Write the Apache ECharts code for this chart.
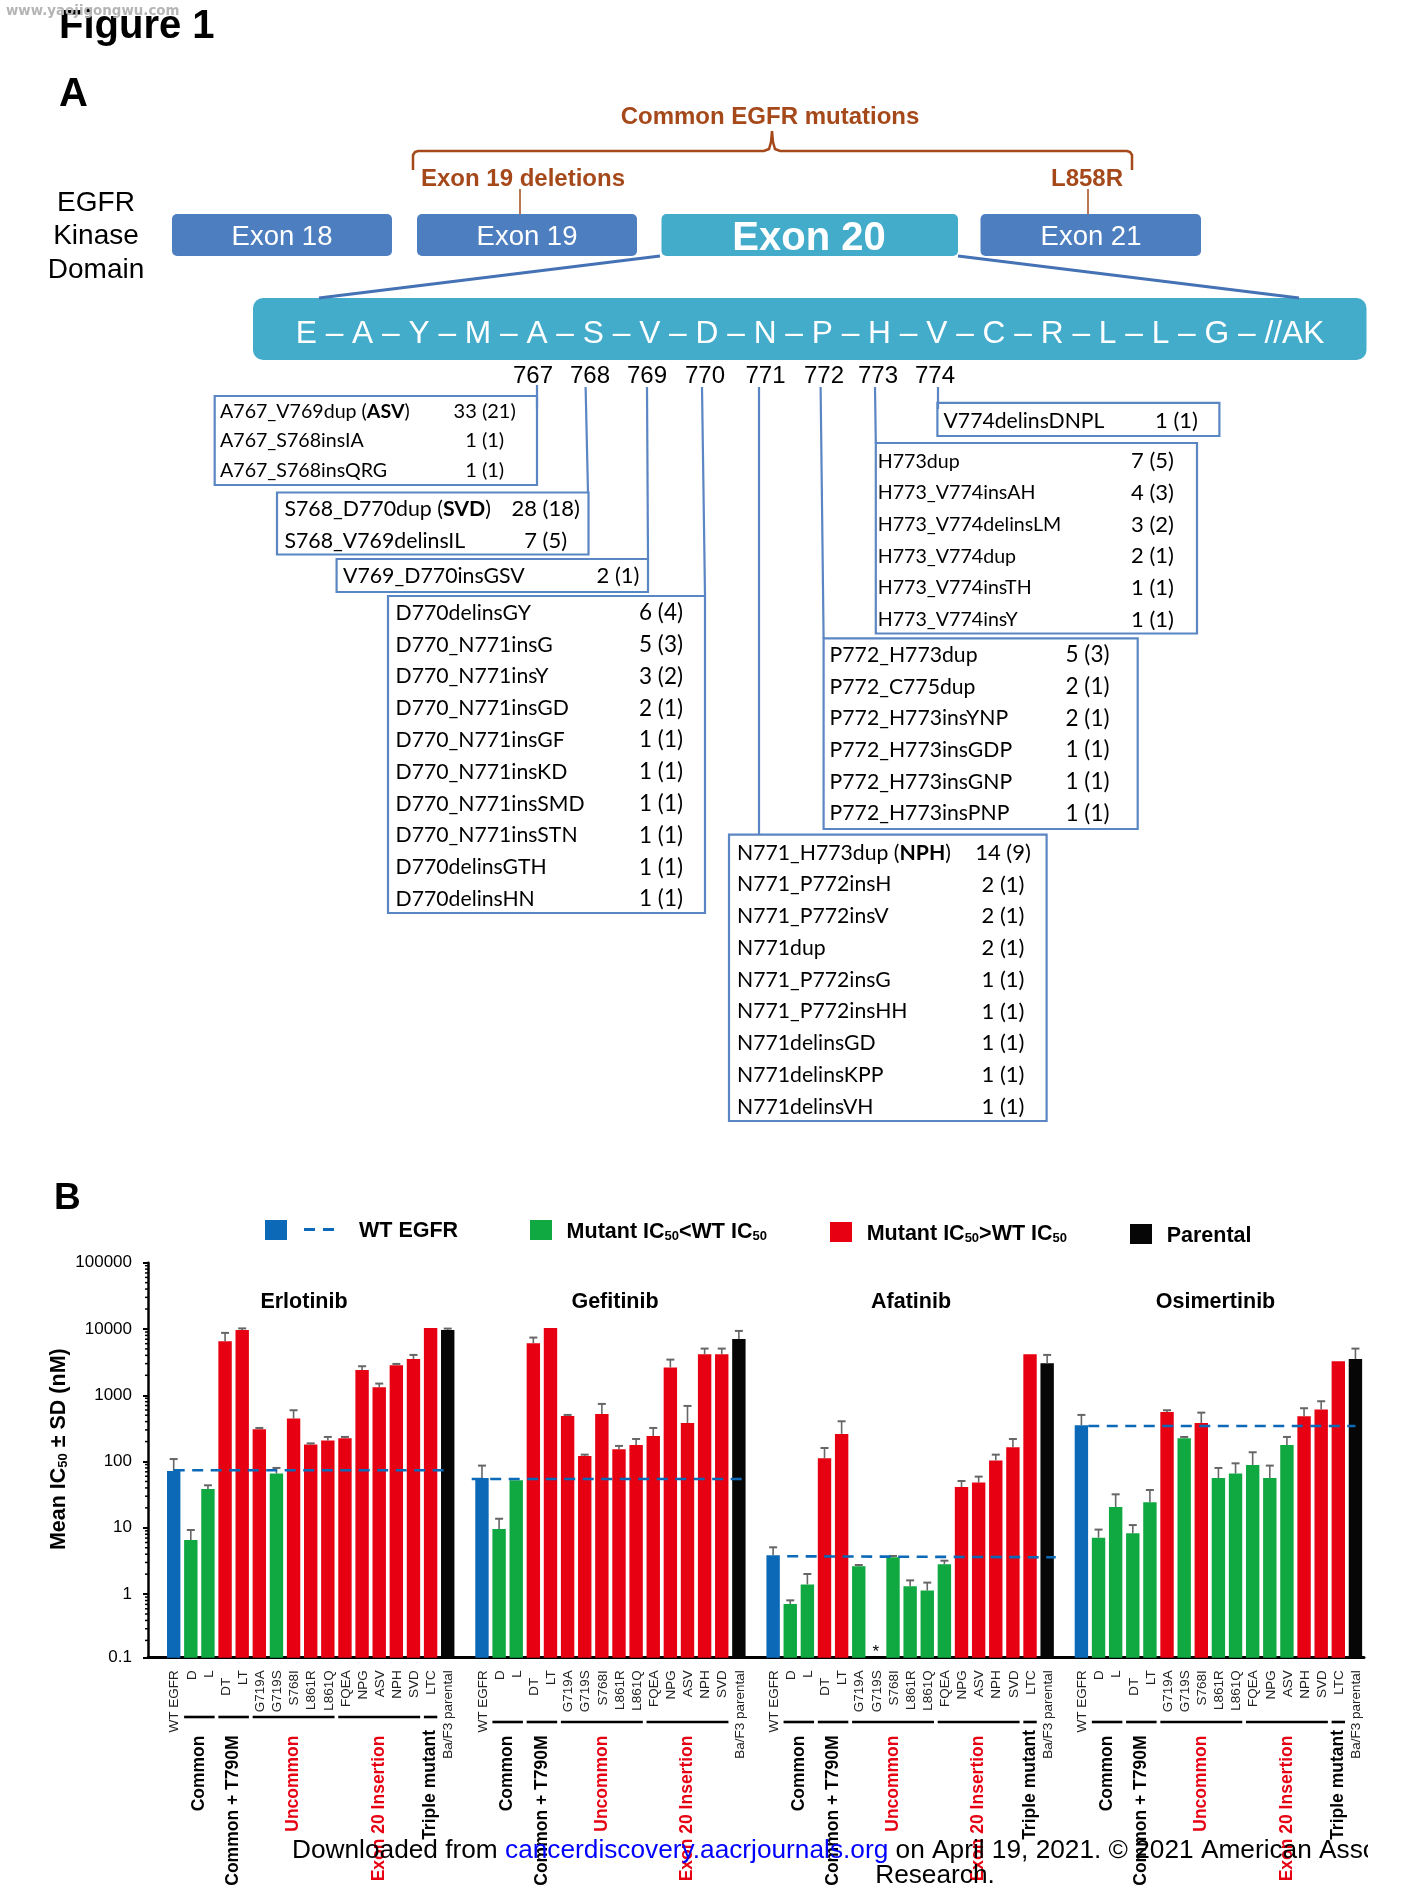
<!DOCTYPE html>
<html>
<head>
<meta charset="utf-8">
<title>Figure 1</title>
<style>
  html, body { margin: 0; padding: 0; background: #fff; }
  #chart { width: 1417px; height: 1890px; }
</style>
<script src="https://cdn.jsdelivr.net/npm/echarts@6/dist/echarts.min.js"></script>
</head>
<body>
<div id="chart"></div>
<script>
// Panel A: mutation tables, one list per residue
const mut767 = [['A767_V769dup (ASV)', '33 (21)'], ['A767_S768insIA', '1 (1)'], ['A767_S768insQRG', '1 (1)']];
const mut768 = [['S768_D770dup (SVD)', '28 (18)'], ['S768_V769delinsIL', '7 (5)']];
const mut769 = [['V769_D770insGSV', '2 (1)']];
const mut770 = [['D770delinsGY', '6 (4)'], ['D770_N771insG', '5 (3)'], ['D770_N771insY', '3 (2)'], ['D770_N771insGD', '2 (1)'],
  ['D770_N771insGF', '1 (1)'], ['D770_N771insKD', '1 (1)'], ['D770_N771insSMD', '1 (1)'], ['D770_N771insSTN', '1 (1)'],
  ['D770delinsGTH', '1 (1)'], ['D770delinsHN', '1 (1)']];
const mut771 = [['N771_H773dup (NPH)', '14 (9)'], ['N771_P772insH', '2 (1)'], ['N771_P772insV', '2 (1)'], ['N771dup', '2 (1)'],
  ['N771_P772insG', '1 (1)'], ['N771_P772insHH', '1 (1)'], ['N771delinsGD', '1 (1)'], ['N771delinsKPP', '1 (1)'], ['N771delinsVH', '1 (1)']];
const mut772 = [['P772_H773dup', '5 (3)'], ['P772_C775dup', '2 (1)'], ['P772_H773insYNP', '2 (1)'], ['P772_H773insGDP', '1 (1)'],
  ['P772_H773insGNP', '1 (1)'], ['P772_H773insPNP', '1 (1)']];
const mut773 = [['H773dup', '7 (5)'], ['H773_V774insAH', '4 (3)'], ['H773_V774delinsLM', '3 (2)'], ['H773_V774dup', '2 (1)'],
  ['H773_V774insTH', '1 (1)'], ['H773_V774insY', '1 (1)']];
const mut774 = [['V774delinsDNPL', '1 (1)']];
const residueNumbers = ['767', '768', '769', '770', '771', '772', '773', '774'];
const exon20Sequence = 'E – A – Y – M – A – S – V – D – N – P – H – V – C – R – L – L – G – //AK';

// Panel B: bar labels and values (nM); *Top is the upper end of the SD whisker
const mutantLabels = ['WT EGFR', 'D', 'L', 'DT  ', 'LT', 'G719A', 'G719S', 'S768I', 'L861R', 'L861Q', 'FQEA', 'NPG', 'ASV', 'NPH', 'SVD', 'LTC', 'Ba/F3 parental'];
const gefitinibLabels = ['WT EGFR', 'D', 'L', 'DT  ', 'LT', 'G719A', 'G719S', 'S768I', 'L861R', 'L861Q', 'FQEA', 'NPG', 'ASV', 'NPH', 'SVD', 'Ba/F3 parental'];

const erlotinibMean = [72.1, 6.55, 38.5, 6530, 9680, 307, 65.8, 445, 180, 207, 224, 2410, 1320, 2840, 3530, 10370, 9680];
const erlotinibTop = [109, 9.27, 43.8, 8730, 10200, 321, 80, 594, 188, 235, 235, 2740, 1500, 2970, 4060, null, 10140];
const gefitinibMean = [56.5, 9.6, 52, 6090, 10370, 488, 121, 523, 153, 178, 243, 2620, 382, 4160, 4160, 7080];
const gefitinibTop = [86.8, 13.7, null, 7420, null, 505, 127, 740, 172, 219, 321, 3450, 690, 5060, 5060, 9350];
const afatinibMean = [3.85, 0.708, 1.4, 112, 261, 2.62, null, 3.59, 1.31, 1.13, 2.81, 41.3, 48.1, 104, 164, 4160, 3040];
const afatinibTop = [5.08, 0.805, 2.01, 160, 405, 2.75, null, 3.76, 1.61, 1.49, 3.19, 50.9, 59.2, 127, 219, null, 4060];
const osimertinibMean = [352, 7.1, 20.6, 8.26, 24.3, 560, 224, 382, 56.5, 65.8, 88.8, 56.5, 178, 482, 608, 3260, 3530];
const osimertinibTop = [505, 9.4, 32, 11, 37.2, 594, 235, 547, 80, 94, 138, 86.8, 235, 637, 812, null, 5060];

const groupNames = ['Common', 'Common + T790M', 'Uncommon', 'Exon 20 Insertion', 'Triple mutant'];
const groupRanges = [[1, 2], [3, 4], [5, 9], [10, 14], [15, 15]];
const yTickLabels = ['0.1', '1', '10', '100', '1000', '10000', '100000'];
const minorMultipliers = [2, 3, 4, 5, 6, 7, 8, 9];

// the source's baseline sits a little above its true 0.1 position
const AXIS_MIN = 0.1097;
const AXIS_MAX = 100000;
const majorTicks = [AXIS_MIN, 1, 10, 100, 1000, 10000, AXIS_MAX];

const SLOT_COUNT = 71;
const GRID = { left: 148, top: 1262.7, width: 1216, height: 395 };
const SLOT_WIDTH = GRID.width / SLOT_COUNT;
const BLUE = '#0b69b7', GREEN = '#10a941', RED = '#e60012', BLACK = '#060606';
const BROWN = '#a5481a', BOX_BLUE = '#5b86c4', EXON_BLUE = '#4d7fc0', TEAL = '#44accb';
const SANS = '"Liberation Sans", Arial, sans-serif';
const CALIBRI_LIKE = 'Lato, "Noto Sans", sans-serif';

const panels = [
  { name: 'Erlotinib', firstSlot: 1, labels: mutantLabels, mean: erlotinibMean, top: erlotinibTop, wt: [1, 16.9, 73.8, 73.8], titleX: 304, groups: 5, bracketY: 1717 },
  { name: 'Gefitinib', firstSlot: 19, labels: gefitinibLabels, mean: gefitinibMean, top: gefitinibTop, wt: [18.4, 34.37, 54.6, 54.6], titleX: 615, groups: 4, bracketY: 1722 },
  { name: 'Afatinib', firstSlot: 36, labels: mutantLabels, mean: afatinibMean, top: afatinibTop, wt: [36.82, 52.5, 3.72, 3.59], titleX: 911, groups: 5, bracketY: 1722 },
  { name: 'Osimertinib', firstSlot: 54, labels: mutantLabels, mean: osimertinibMean, top: osimertinibTop, wt: [54.4, 70, 344, 344], titleX: 1215.5, groups: 5, bracketY: 1722 }
];

// one category per slot, the unused ones make the gaps between the drugs
const slotNames = new Array(SLOT_COUNT).fill('');
const slotValues = new Array(SLOT_COUNT).fill(null);
const slotColors = new Array(SLOT_COUNT).fill(RED);
const whiskerData = [];
const labelData = [];
const bracketData = [];

panels.forEach((panel) => {
  const wtValue = panel.mean[0];
  panel.labels.forEach((label, i) => {
    const slot = panel.firstSlot + i;
    const value = panel.mean[i];
    slotNames[slot] = label;
    slotValues[slot] = value;
    if (i === 0) slotColors[slot] = BLUE;
    else if (i === panel.labels.length - 1) slotColors[slot] = BLACK;
    else slotColors[slot] = value < wtValue ? GREEN : RED;
    labelData.push([slot, label]);
    if (panel.top[i] != null) whiskerData.push([slot, value, panel.top[i]]);
  });
  for (let g = 0; g < panel.groups; g++) {
    bracketData.push([panel.firstSlot + groupRanges[g][0], panel.firstSlot + groupRanges[g][1], groupNames[g], panel.bracketY]);
  }
});
const noDataSlot = panels[2].firstSlot + 6; // G719S on afatinib

const minorTickValues = [];
[0.1, 1, 10, 100, 1000, 10000].forEach((decade) => {
  minorMultipliers.forEach((m) => {
    if (decade * m > AXIS_MIN) minorTickValues.push(decade * m);
  });
});

function text(x, y, content, size, extra = {}) {
  const { weight = 'normal', fill = '#000', align = 'left', family = SANS, rich = null, rotation = 0, z = 10 } = extra;
  return {
    type: 'text', x, y: y + 1.2, rotation, z, silent: true,
    style: {
      text: content, fontSize: size, fontWeight: weight, fontFamily: family, fill,
      textAlign: align, textVerticalAlign: 'middle', rich: rich || undefined
    }
  };
}

function rect(x, y, w, h, fill, r = 0) {
  return { type: 'rect', z: 5, silent: true, shape: { x, y, width: w, height: h, r }, style: { fill } };
}

function seg(x1, y1, x2, y2, stroke, lineWidth) {
  return { type: 'line', z: 6, silent: true, shape: { x1, y1, x2, y2 }, style: { stroke, lineWidth } };
}

// bold the abbreviation in "NAME (ABC)"
function mutationRow(x, y, name, size) {
  const m = name.match(/^(.*\()(.*)(\))$/);
  if (!m) return text(x, y, name, size, { family: CALIBRI_LIKE });
  return text(x, y, `{r|${m[1]}}{b|${m[2]}}{r|${m[3]}}`, size, {
    family: CALIBRI_LIKE,
    rich: {
      r: { fontSize: size, fontFamily: CALIBRI_LIKE, fill: '#000' },
      b: { fontSize: size, fontFamily: CALIBRI_LIKE, fontWeight: 'bold', fill: '#000' }
    }
  });
}

function mutationBox(rows, box) {
  const items = [{
    type: 'rect', z: 6, silent: true,
    shape: { x: box.x, y: box.y, width: box.w, height: box.h },
    style: { fill: 'none', stroke: BOX_BLUE, lineWidth: 2.2 }
  }];
  rows.forEach(([name, count], i) => {
    const y = box.firstRow + i * box.pitch - 1;
    items.push(mutationRow(box.textX, y, name, box.size));
    items.push(text(box.countX, y, count, box.countSize, { family: CALIBRI_LIKE, align: 'center' }));
  });
  return items;
}

function panelA() {
  const items = [
    text(59, 26, 'Figure 1', 40, { weight: 'bold' }),
    rect(0, 0, 300, 8, '#fff'),
    text(6, 10, 'www.yaojigongwu.com', 13.4, { weight: 'bold', fill: '#b5b5b5', family: '"DejaVu Sans", sans-serif', z: 12 }),
    text(59, 94, 'A', 40, { weight: 'bold' }),

    text(770, 116, 'Common EGFR mutations', 24, { weight: 'bold', fill: BROWN, align: 'center' }),
    {
      type: 'polyline', z: 6, silent: true,
      shape: { points: [[413, 170], [413, 155], [415, 152], [418, 151], [764, 151], [769, 149], [771, 142], [772, 131], [773, 142], [775, 149], [780, 151], [1127, 151], [1130, 152], [1132, 155], [1132, 170]] },
      style: { fill: 'none', stroke: BROWN, lineWidth: 2.5 }
    },
    text(523, 178.5, 'Exon 19 deletions', 24, { weight: 'bold', fill: BROWN, align: 'center' }),
    text(1087, 178.5, 'L858R', 24, { weight: 'bold', fill: BROWN, align: 'center' }),
    seg(520, 189, 520, 214, BROWN, 1.5),
    seg(1088, 189, 1088, 214, BROWN, 1.5),

    text(96, 202, 'EGFR', 28, { align: 'center' }),
    text(96, 235, 'Kinase', 28, { align: 'center' }),
    text(96, 269, 'Domain', 28, { align: 'center' }),

    rect(172, 214, 220, 42, EXON_BLUE, 5),
    rect(417, 214, 220, 42, EXON_BLUE, 5),
    rect(661.5, 214, 296.5, 42, TEAL, 5),
    rect(980.5, 214, 220.5, 42, EXON_BLUE, 5),
    text(282, 236, 'Exon 18', 27.5, { fill: '#fff', align: 'center' }),
    text(527, 236, 'Exon 19', 27.5, { fill: '#fff', align: 'center' }),
    text(809, 238, 'Exon 20', 40, { fill: '#fff', align: 'center', weight: 'bold' }),
    text(1091, 236, 'Exon 21', 27.5, { fill: '#fff', align: 'center' }),

    seg(660, 256, 319, 298, '#4472b4', 3),
    seg(958, 256, 1299, 298, '#4472b4', 3),
    rect(253, 298, 1113.5, 62, TEAL, 10),
    text(810, 333, exon20Sequence, 31.7, { fill: '#fff', align: 'center' })
  ];

  const numberX = [533, 590, 647, 705, 765.5, 824, 878, 935];
  residueNumbers.forEach((n, i) => items.push(text(numberX[i], 375, n, 24, { align: 'center' })));

  // leader lines from the residue numbers to their boxes
  items.push(seg(537, 385, 537, 409, BOX_BLUE, 2.2));
  items.push(seg(585.6, 387, 588, 492.5, BOX_BLUE, 2.2));
  items.push(seg(647, 387, 648, 559, BOX_BLUE, 2.2));
  items.push(seg(702, 387, 705, 596, BOX_BLUE, 2.2));
  items.push(seg(759, 387, 759, 834.7, BOX_BLUE, 2.2));
  items.push(seg(820.6, 387, 823.6, 638.4, BOX_BLUE, 2.2));
  items.push(seg(875, 387, 875.8, 443, BOX_BLUE, 2.2));
  items.push(seg(938, 387, 938, 409, BOX_BLUE, 2.2));

  items.push(...mutationBox(mut767, { x: 214.7, y: 396, w: 322.3, h: 89, firstRow: 411, pitch: 29.5, textX: 220, countX: 484.7, size: 19.6, countSize: 20 }));
  items.push(...mutationBox(mut768, { x: 277, y: 492.5, w: 311.5, h: 62, firstRow: 509, pitch: 32, textX: 284.4, countX: 545.6, size: 21.3, countSize: 22 }));
  items.push(...mutationBox(mut769, { x: 336.6, y: 559, w: 311.4, h: 33, firstRow: 576, pitch: 32, textX: 343, countX: 618, size: 21.3, countSize: 22 }));
  items.push(...mutationBox(mut770, { x: 388, y: 596, w: 317, h: 317, firstRow: 612.7, pitch: 31.8, textX: 395.6, countX: 661, size: 21.2, countSize: 22.5 }));
  items.push(...mutationBox(mut771, { x: 729, y: 834.7, w: 317.6, h: 286.3, firstRow: 852.6, pitch: 31.75, textX: 737, countX: 1003, size: 21.2, countSize: 22 }));
  items.push(...mutationBox(mut772, { x: 823.6, y: 638.4, w: 314.1, h: 190.6, firstRow: 654.8, pitch: 31.7, textX: 829.6, countX: 1087.5, size: 21.2, countSize: 22.5 }));
  items.push(...mutationBox(mut773, { x: 875.8, y: 443, w: 321.2, h: 190.5, firstRow: 461, pitch: 31.7, textX: 877.8, countX: 1152.5, size: 19.6, countSize: 22 }));
  items.push(...mutationBox(mut774, { x: 937.4, y: 402.8, w: 282, h: 33.2, firstRow: 421, pitch: 32, textX: 943.5, countX: 1176.5, size: 21.2, countSize: 22 }));
  return items;
}

function icRich(size) {
  return {
    n: { fontSize: size, fontWeight: 'bold', fontFamily: SANS, fill: '#000' },
    s: { fontSize: Math.round(size * 0.62), fontWeight: 'bold', fontFamily: SANS, fill: '#000', verticalAlign: 'bottom', padding: [5, 0, 0, 0] }
  };
}

function panelBDecor() {
  const items = [
    text(54, 1198, 'B', 37, { weight: 'bold' }),
    rect(265, 1220, 22, 20, BLUE),
    seg(304, 1229.5, 315, 1229.5, BLUE, 3),
    seg(323, 1229.5, 334, 1229.5, BLUE, 3),
    text(359, 1230, 'WT EGFR', 21.5, { weight: 'bold' }),
    rect(530, 1220, 22, 20, GREEN),
    text(566.6, 1231, '{n|Mutant IC}{s|50}{n|<WT IC}{s|50}', 21.5, { rich: icRich(21.5) }),
    rect(830, 1222, 22, 20, RED),
    text(866.7, 1233, '{n|Mutant IC}{s|50}{n|>WT IC}{s|50}', 21.5, { rich: icRich(21.5) }),
    rect(1130, 1224, 22, 20, BLACK),
    text(1166.7, 1234.5, 'Parental', 21.5, { weight: 'bold' })
  ];
  items.push(text(59, 1448, '{n|Mean IC}{s|50}{n| ± SD (nM)}', 21.5, { rich: icRich(21.5), rotation: Math.PI / 2, align: 'center' }));
  panels.forEach((p) => items.push(text(p.titleX, 1301, p.name, 21.5, { weight: 'bold', align: 'center' })));

  // footer stamp, cut off at the page edge like in the source
  const footer = '{k|Downloaded from }{l|cancerdiscovery.aacrjournals.org}{k| on April 19, 2021. © 2021 American Asso}';
  items.push(text(292, 1850, footer, 26.25, {
    z: 20,
    rich: {
      k: { fontSize: 26.25, fontFamily: SANS, fill: '#000' },
      l: { fontSize: 26.25, fontFamily: SANS, fill: '#0000ff' }
    }
  }));
  items.push(Object.assign(rect(1368, 1830, 49, 36, '#fff'), { z: 21 }));
  items.push(text(935, 1875, 'Research.', 26.25, { align: 'center', z: 20 }));
  return items;
}

function renderWhisker(params, api) {
  const x = api.coord([api.value(0), api.value(1)])[0];
  const yBar = api.coord([api.value(0), api.value(1)])[1];
  const yTop = api.coord([api.value(0), api.value(2)])[1];
  const style = { stroke: '#666', lineWidth: 1.6 };
  return {
    type: 'group',
    children: [
      { type: 'line', shape: { x1: x, y1: yBar, x2: x, y2: yTop }, style },
      { type: 'line', shape: { x1: x - 4, y1: yTop, x2: x + 4, y2: yTop }, style: { stroke: '#666', lineWidth: 2 } }
    ]
  };
}

function slotX(api, slot) {
  const base = Math.floor(slot);
  return api.coord([base, AXIS_MIN])[0] + (slot - base) * SLOT_WIDTH;
}

function renderWtLine(params, api) {
  const [from, to, v0, v1] = panels[params.dataIndex].wt;
  return {
    type: 'line',
    shape: { x1: slotX(api, from), y1: api.coord([0, v0])[1], x2: slotX(api, to), y2: api.coord([0, v1])[1] },
    style: { stroke: BLUE, lineWidth: 2.6, lineDash: [11, 7.5] }
  };
}

function renderSlotLabel(params, api) {
  const [slot, label] = labelData[params.dataIndex];
  const [x, y] = api.coord([slot, AXIS_MIN]);
  return {
    type: 'text', x: x + 1, y: y + 12.6, rotation: Math.PI / 2,
    style: { text: label, fontSize: 13.5, fontFamily: SANS, fill: '#222', textAlign: 'right', textVerticalAlign: 'middle' }
  };
}

function renderBracket(params, api) {
  const [first, last, name, bracketY] = bracketData[params.dataIndex];
  const x1 = api.coord([first, AXIS_MIN])[0] - 6.7;
  const x2 = api.coord([last, AXIS_MIN])[0] + 6.7;
  const isRed = name === 'Uncommon' || name === 'Exon 20 Insertion';
  const nameTop = name === 'Triple mutant' ? 1730 : 1735.5;
  return {
    type: 'group',
    children: [
      { type: 'line', shape: { x1, y1: bracketY, x2, y2: bracketY }, style: { stroke: '#000', lineWidth: 2.6 } },
      {
        type: 'text', x: (x1 + x2) / 2, y: nameTop, rotation: Math.PI / 2,
        style: { text: name, fontSize: 17.5, fontWeight: 'bold', fontFamily: SANS, fill: isRed ? RED : '#000', textAlign: 'right', textVerticalAlign: 'middle' }
      }
    ]
  };
}

function renderNoData(params, api) {
  const [x, y] = api.coord([noDataSlot, AXIS_MIN]);
  return { type: 'text', x, y: y - 5, style: { text: '*', fontSize: 17, fontFamily: SANS, fill: '#000', textAlign: 'center', textVerticalAlign: 'middle' } };
}

// log-spaced minor ticks, left of the value axis
function renderMinorTick(params, api) {
  const [x, y] = api.coord([0, api.value(1)]);
  const axisX = x - SLOT_WIDTH / 2;
  return { type: 'line', shape: { x1: axisX - 3, y1: y, x2: axisX, y2: y }, style: { stroke: '#000', lineWidth: 1.5 } };
}

const chart = echarts.init(document.getElementById('chart'));
chart.setOption({
  animation: false,
  backgroundColor: '#fff',
  grid: GRID,
  xAxis: {
    type: 'category',
    data: slotNames.map((name, i) => name || `slot${i}`),
    axisLine: { lineStyle: { color: '#000', width: 3 } },
    axisTick: { show: false },
    axisLabel: { show: false }
  },
  yAxis: {
    type: 'log',
    logBase: 10,
    min: AXIS_MIN,
    max: AXIS_MAX,
    startValue: AXIS_MIN,
    splitLine: { show: false },
    axisLine: { show: true, lineStyle: { color: '#000', width: 2.5 } },
    axisTick: { show: true, length: 5, customValues: majorTicks, lineStyle: { color: '#000', width: 2 } },
    minorTick: { show: false },
    axisLabel: {
      margin: 16, fontSize: 17, fontFamily: SANS, color: '#000',
      customValues: majorTicks,
      formatter: (v) => yTickLabels[Math.round(Math.log10(v)) + 1]
    }
  },
  series: [
    {
      type: 'bar', barWidth: 13.4, z: 2,
      data: slotValues,
      itemStyle: { color: (p) => slotColors[p.dataIndex] }
    },
    { type: 'custom', z: 3, renderItem: renderWhisker, data: whiskerData, encode: { x: 0, y: 2 }, silent: true },
    { type: 'custom', z: 4, renderItem: renderWtLine, data: panels.map((p) => [p.firstSlot, p.wt[2]]), encode: { x: 0, y: 1 }, silent: true },
    { type: 'custom', z: 4, renderItem: renderSlotLabel, data: labelData.map((d) => [d[0], 1]), encode: { x: 0, y: 1 }, silent: true },
    { type: 'custom', z: 4, renderItem: renderBracket, data: bracketData.map((d) => [d[0], 1]), encode: { x: 0, y: 1 }, silent: true },
    { type: 'custom', z: 4, renderItem: renderNoData, data: [[noDataSlot, 1]], encode: { x: 0, y: 1 }, silent: true },
    { type: 'custom', z: 4, renderItem: renderMinorTick, data: minorTickValues.map((v) => [0, v]), encode: { x: 0, y: 1 }, silent: true }
  ],
  graphic: { elements: [...panelA(), ...panelBDecor()] }
});
</script>
</body>
</html>
